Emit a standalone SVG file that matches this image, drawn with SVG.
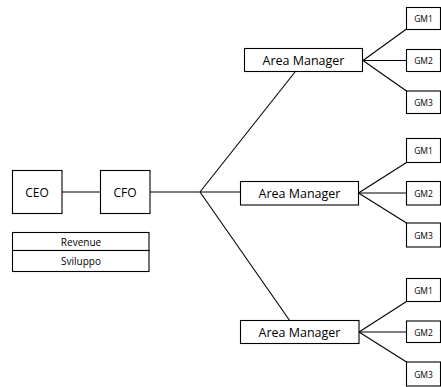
<svg xmlns="http://www.w3.org/2000/svg" width="441" height="387" viewBox="0 0 441 387">
<style>
rect{fill:#fff;stroke:#000;stroke-width:1.1}
line{stroke:#000;stroke-width:1.1}
text{font-family:"Open Sans","Liberation Sans",sans-serif;fill:#000;text-anchor:middle;dominant-baseline:central}
.big{font-size:12.5px}
.md{font-size:12px}
.sm{font-size:10px}
.gm{font-size:8.5px}
</style>
<rect x="0" y="0" width="441" height="387" style="fill:#fff;stroke:none"/>
<g id="connectors">
<line x1="62" y1="192" x2="100" y2="192"/>
<line x1="150" y1="192" x2="200" y2="192"/>
<line x1="200" y1="192" x2="295" y2="72"/>
<line x1="200" y1="192" x2="240.5" y2="192"/>
<line x1="200" y1="192" x2="290" y2="321"/>
<line x1="363" y1="60.5" x2="406.5" y2="29"/>
<line x1="363" y1="60.5" x2="406.5" y2="60.5"/>
<line x1="363" y1="60.5" x2="406.5" y2="91"/>
<line x1="358.5" y1="193" x2="406.5" y2="162.5"/>
<line x1="358.5" y1="193" x2="406.5" y2="193"/>
<line x1="358.5" y1="193" x2="406.5" y2="223"/>
<line x1="359" y1="332" x2="406.5" y2="301.5"/>
<line x1="359" y1="332" x2="406.5" y2="332"/>
<line x1="359" y1="332" x2="406.5" y2="362"/>
</g>
<g id="ceo"><rect x="12.5" y="170.5" width="49.5" height="43"/><text class="md" x="37" y="192">CEO</text></g>
<g id="cfo"><rect x="100.5" y="170.5" width="49.5" height="43"/><text class="md" x="125" y="192">CFO</text></g>
<g id="revenue"><rect x="12.5" y="232.5" width="136.5" height="18"/><text class="sm" x="81" y="241.5">Revenue</text></g>
<g id="sviluppo"><rect x="12.5" y="250.5" width="136.5" height="21"/><text class="sm" x="81" y="261">Sviluppo</text></g>
<g id="am1"><rect x="244.5" y="48.5" width="118" height="23"/><text class="big" x="303.5" y="60">Area Manager</text></g>
<g id="am2"><rect x="240.5" y="181.5" width="118" height="23.5"/><text class="big" x="299.5" y="193">Area Manager</text></g>
<g id="am3"><rect x="240.5" y="320.5" width="118.5" height="23"/><text class="big" x="299.5" y="332">Area Manager</text></g>
<g id="gm1a"><rect x="406.5" y="7.5" width="34" height="22"/><text class="gm" x="423.5" y="18.5">GM1</text></g>
<g id="gm2a"><rect x="406.5" y="49.5" width="34" height="22"/><text class="gm" x="423.5" y="60.5">GM2</text></g>
<g id="gm3a"><rect x="406.5" y="91" width="34" height="22.5"/><text class="gm" x="423.5" y="102">GM3</text></g>
<g id="gm1b"><rect x="406.5" y="138.5" width="34" height="24"/><text class="gm" x="423.5" y="150.5">GM1</text></g>
<g id="gm2b"><rect x="406.5" y="181.5" width="34" height="23.5"/><text class="gm" x="423.5" y="193">GM2</text></g>
<g id="gm3b"><rect x="406.5" y="223" width="34" height="24"/><text class="gm" x="423.5" y="235">GM3</text></g>
<g id="gm1c"><rect x="406.5" y="278.5" width="34" height="23"/><text class="gm" x="423.5" y="290">GM1</text></g>
<g id="gm2c"><rect x="406.5" y="321" width="34" height="21.5"/><text class="gm" x="423.5" y="332">GM2</text></g>
<g id="gm3c"><rect x="406.5" y="362" width="34" height="24"/><text class="gm" x="423.5" y="374">GM3</text></g>
</svg>
